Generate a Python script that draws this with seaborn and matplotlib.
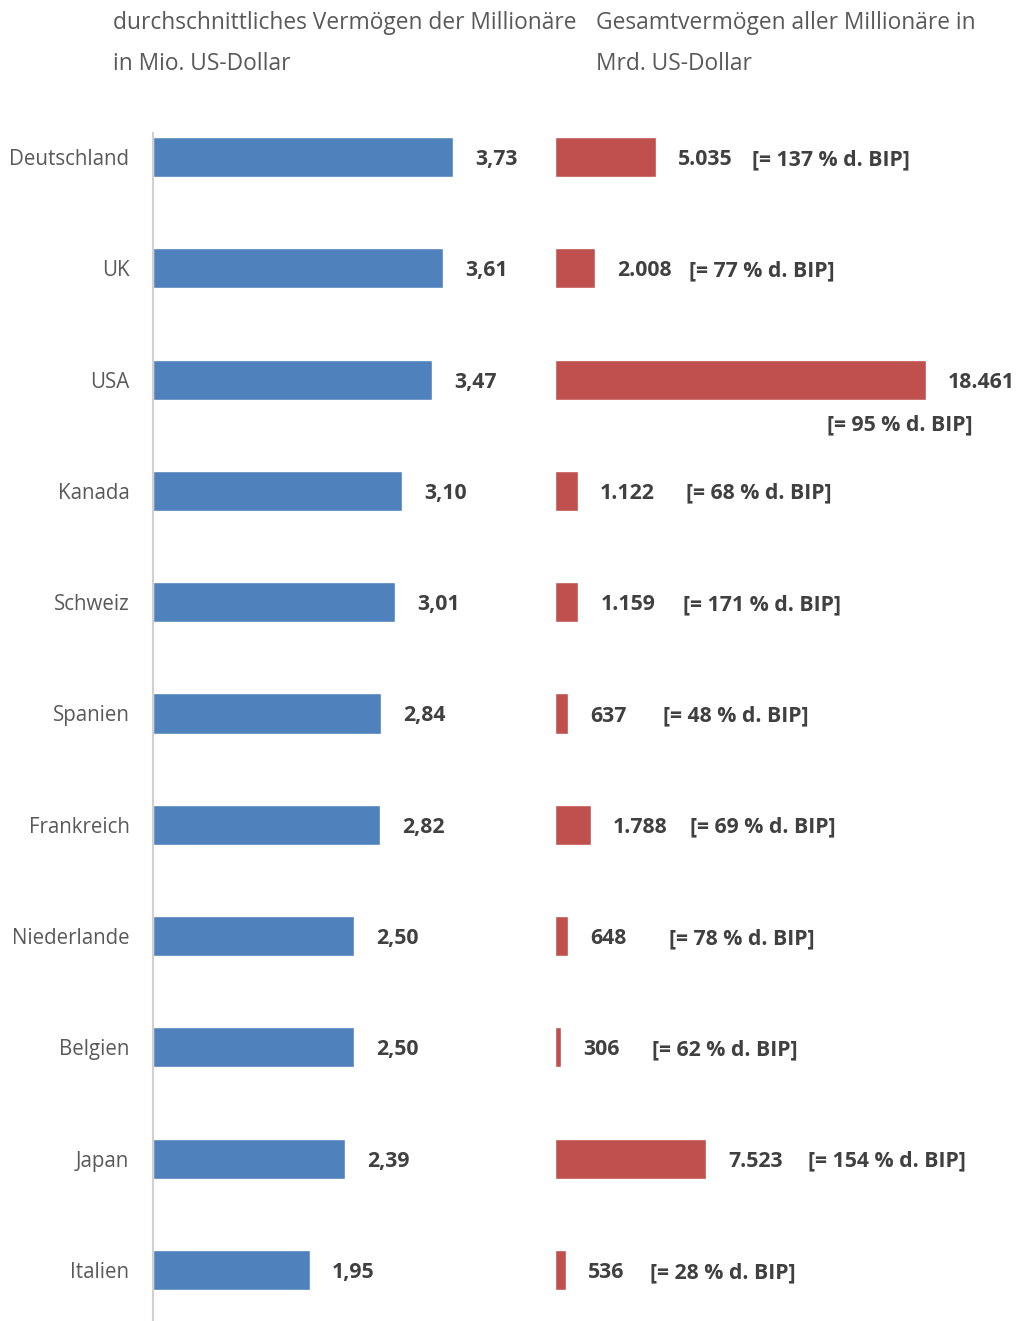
import matplotlib
matplotlib.use("Agg")
import matplotlib.pyplot as plt
import seaborn as sns
import pandas as pd

# ---- data ----
countries = ["Deutschland", "UK", "USA", "Kanada", "Schweiz", "Spanien",
             "Frankreich", "Niederlande", "Belgien", "Japan", "Italien"]
avg_wealth = [3.73, 3.61, 3.47, 3.10, 3.01, 2.84, 2.82, 2.50, 2.50, 2.39, 1.95]
avg_labels = ["3,73", "3,61", "3,47", "3,10", "3,01", "2,84", "2,82", "2,50", "2,50", "2,39", "1,95"]
total_wealth = [5035, 2008, 18461, 1122, 1159, 637, 1788, 648, 306, 7523, 536]
total_labels = ["5.035", "2.008", "18.461", "1.122", "1.159", "637", "1.788", "648", "306", "7.523", "536"]
bip_pct = [137, 77, 95, 68, 171, 48, 69, 78, 62, 154, 28]
title_left = "durchschnittliches Vermögen der Millionäre\nin Mio. US-Dollar"
title_right = "Gesamtvermögen aller Millionäre in\nMrd. US-Dollar"

# ---- layout / style (pixels) ----
bip_gap_px = [96, 94, None, 108, 105, 95, 99, 101, 91, 102, 84]

sns.set_theme(style="white")
plt.rcParams["font.family"] = ["Open Sans", "DejaVu Sans"]

W, H = 1019, 1321
fig = plt.figure(figsize=(W / 100, H / 100), dpi=100)

blue = "#4F81BD"
red = "#C0504D"
txt = "#595959"
val = "#404040"
vsize = 15.3

df = pd.DataFrame({"country": countries, "avg": avg_wealth, "total": total_wealth})

top_px, bot_px = 133, 1321
ax_b = 0.0
ax_h = (bot_px - top_px) / H
ax1 = fig.add_axes([153 / W, ax_b, 380 / W, ax_h])
ax2 = fig.add_axes([555 / W, ax_b, 464 / W, ax_h])

sns.barplot(data=df, x="avg", y="country", orient="h", color=blue,
            width=0.36, saturation=1, ax=ax1)
sns.barplot(data=df, x="total", y="country", orient="h", color=red,
            width=0.36, saturation=1, ax=ax2)

spacing = (1270 - 157) / 10
ylo = -(157 - top_px) / spacing
yhi = (bot_px - 157) / spacing
for ax in (ax1, ax2):
    ax.set_ylim(yhi, ylo)
    ax.set_xlabel("")
    ax.set_ylabel("")
    ax.set_xticks([])
    for s in ax.spines.values():
        s.set_visible(False)

ax1.set_xlim(0, 380 / 80.4)
ax2.set_xlim(0, 464 / (371 / 18461))
ax1.spines["left"].set_visible(True)
ax1.spines["left"].set_color("#D0D0D0")
ax1.spines["left"].set_linewidth(1.5)

ax1.tick_params(axis="y", length=0, pad=17, labelsize=14.8, labelcolor=txt)
ax2.set_yticks([])

# value labels
t1 = ax1.bar_label(ax1.containers[0], labels=avg_labels, padding=16,
                   fontsize=vsize, fontweight="bold", color=val)
t2 = ax2.bar_label(ax2.containers[0], labels=total_labels, padding=16,
                   fontsize=vsize, fontweight="bold", color=val)
for t in list(t1) + list(t2):
    t.set_va("center_baseline")

px2pt = 72 / 100
for i, (v, p, g) in enumerate(zip(total_wealth, bip_pct, bip_gap_px)):
    lab = f"[= {p} % d. BIP]"
    if g is None:
        off = (-99 * px2pt, -43 * px2pt)
    else:
        off = (g * px2pt, 0)
    ax2.annotate(lab, xy=(v, i), xytext=off,
                 textcoords="offset points", ha="left", va="center_baseline",
                 fontsize=vsize, fontweight="bold", color=val,
                 annotation_clip=False)

fig.text(113 / W, 1 - 11 / H, title_left, ha="left", va="top",
         fontsize=16.4, color=txt, linespacing=1.95)
fig.text(596 / W, 1 - 11 / H, title_right, ha="left", va="top",
         fontsize=16.4, color=txt, linespacing=1.95)

fig.savefig("out.png", dpi=100)
